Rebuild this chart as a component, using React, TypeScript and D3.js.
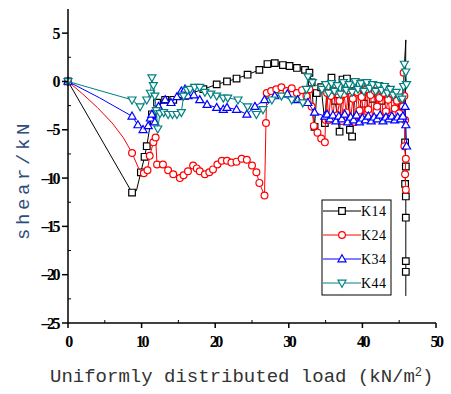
import React from 'react';
import * as d3 from 'd3';

// [load, shear, marker?] -- marker 0 means the point is only on the line
type Pt = [number, number, number?];

const seriesNames = ['K14', 'K24', 'K34', 'K44'];
const seriesColors = ['#000000', '#ff0000', '#0000ff', '#008080'];
const seriesShapes = ['square', 'circle', 'up', 'down'];

const xTicks = [0, 10, 20, 30, 40, 50];
const yTicks = [-25, -20, -15, -10, -5, 0, 5];

const k14: Pt[] = [
  [0, 0], [8.7, -11.5], [9.3, -11.3, 0], [9.9, -9.4], [10.4, -7.8], [10.7, -6.7], [11.4, -3.4], [12.1, -2.2],
  [13.2, -1.9], [14.3, -1.9], [15.9, -1.5], [16.8, -1.2], [18.4, -0.8], [20.2, -0.3], [21.6, 0], [22.9, 0.3],
  [24.4, 0.7], [26.0, 1.2], [27.1, 1.8], [28.1, 1.9], [29.2, 1.7], [30.1, 1.6], [31.1, 1.4], [32.2, 1.2],
  [32.8, 0.9], [33.1, -0.1], [33.5, -4.7], [33.8, -1.2], [34.4, -0.6], [34.9, -4.3], [35.2, -0.5], [35.8, 0.4],
  [36.3, -2.0], [36.9, -5.2], [37.3, 0.2], [37.9, 0.3], [38.3, -5.0], [38.6, -5.7], [39.0, -1.0], [39.6, -0.2],
  [40.2, -2.3], [40.8, -0.4], [41.4, -1.8], [42.0, -0.6], [42.6, -2.0], [43.2, -0.8], [43.8, -1.6], [44.3, -1.2],
  [44.9, -1.9], [45.4, -2.5], [45.9, 4.3, 0], [45.8, -6.3], [45.9, -8.8], [45.8, -10.6], [45.9, -11.9],
  [45.9, -14.1], [45.9, -18.6], [45.9, -19.7], [45.9, -22.2, 0],
];

const k24: Pt[] = [
  [0, 0], [2, -1.3, 0], [4, -2.7, 0], [6, -4.3, 0], [7.5, -5.8, 0], [8.7, -7.4], [9.6, -9.0, 0], [10.3, -9.5],
  [10.8, -9.2], [11.1, -7.7], [11.6, -6.3], [11.9, -5.8], [12.1, -8.6], [12.9, -8.6], [13.6, -9.2], [14.3, -9.6],
  [15.2, -10.0], [15.7, -9.7], [16.3, -9.3], [17.0, -8.7], [17.5, -9.0], [17.9, -9.3], [18.6, -9.6], [19.2, -9.4],
  [19.7, -9.1], [20.3, -8.6], [20.9, -8.2], [21.6, -8.2], [22.2, -8.4], [22.9, -8.3], [23.6, -8.0], [24.3, -8.1],
  [25.0, -8.7], [25.6, -9.4], [26.0, -10.5], [26.7, -11.8], [26.9, -4.3], [27.0, -1.2], [27.6, -1.0], [28.3, -0.8],
  [29.0, -0.6], [29.7, -1.0], [30.4, -0.7], [31.1, -1.2], [31.8, -0.9], [32.4, -1.5], [32.8, -0.8], [33.1, -2.6],
  [33.4, -4.6], [33.9, -5.3], [34.4, -5.9], [34.9, -6.3], [35.0, -4.0], [35.2, -1.2], [35.4, -4.0], [35.7, -1.5],
  [36.0, -3.8], [36.3, -1.0], [36.6, -3.5], [36.9, -2.0], [37.2, -4.1], [37.5, -1.3], [37.8, -3.2], [38.1, -0.9],
  [38.4, -3.9], [38.7, -1.8], [39.0, -4.2], [39.3, -1.1], [39.6, -3.0], [39.9, -1.6], [40.2, -3.7], [40.5, -0.8],
  [40.8, -2.9], [41.1, -1.4], [41.4, -3.9], [41.7, -1.0], [42.0, -2.6], [42.3, -1.7], [42.6, -3.8], [42.9, -1.2],
  [43.2, -3.1], [43.5, -1.9], [43.8, -3.6], [44.1, -1.3], [44.4, -2.8], [44.7, -2.0], [45.0, -3.3], [45.3, -1.8],
  [45.5, -2.6], [45.6, 0.9], [45.7, -1.5], [45.8, -4.0], [45.7, -6.7], [45.9, -8.0], [45.8, -9.6], [45.9, -11.2],
];

const k34: Pt[] = [
  [0, 0], [4.3, -1.7, 0], [8.7, -3.6], [9.5, -4.5], [10.2, -5.0], [10.9, -4.6], [11.2, -3.8], [11.4, -3.4],
  [11.8, -4.2], [12.3, -2.6], [13.2, -1.9], [14.0, -2.2], [14.8, -1.6], [15.4, -1.0], [15.9, -0.8], [16.3, -1.5],
  [17.1, -1.4], [17.9, -1.9], [18.9, -2.4], [20.2, -2.7], [21.1, -2.9], [21.6, -2.7], [22.9, -2.9], [24.3, -3.4],
  [25.4, -2.6], [26.7, -1.9], [28.1, -1.5], [29.8, -1.3], [31.2, -1.9], [32.6, -2.2], [33.5, -3.2], [34.9, -3.6],
  [35.2, -3.4], [35.6, -3.9], [36.0, -3.5], [36.4, -4.1], [36.8, -3.6], [37.2, -3.9], [37.6, -3.4], [38.0, -4.2],
  [38.4, -3.7], [38.8, -4.0], [39.2, -3.5], [39.6, -4.2], [40.0, -3.8], [40.4, -4.0], [40.8, -3.6], [41.2, -4.1],
  [41.6, -3.7], [42.0, -3.9], [42.4, -3.5], [42.8, -4.1], [43.2, -3.7], [43.6, -3.9], [44.0, -3.6], [44.4, -4.0],
  [44.8, -3.7], [45.2, -3.9], [45.5, -3.6], [45.8, -2.6], [45.9, -4.5], [46.0, -6.7],
];

const k44: Pt[] = [
  [0, 0], [8.7, -1.9], [9.8, -2.6], [10.7, -1.9], [11.2, -1.2], [11.4, 0.4], [11.6, -0.4], [11.8, -1.5],
  [12.0, -3.0], [12.2, -4.9], [12.5, -3.3], [13.0, -3.2], [13.6, -3.4], [14.2, -3.4], [14.8, -3.4], [15.4, -3.2],
  [15.7, -1.5], [16.2, -0.9], [16.6, -0.8], [17.2, -0.6], [17.9, -0.6], [18.6, -1.1], [19.4, -1.3], [20.2, -1.5],
  [21.1, -1.7], [21.7, -1.7], [23.1, -1.9], [24.4, -2.6], [25.6, -3.4], [26.5, -2.9], [27.7, -1.9], [29.0, -1.5],
  [30.4, -1.9], [31.9, -2.2], [32.4, -0.8], [32.6, 0.5], [33.2, -0.1], [34.5, -0.8], [35.0, -0.3], [35.4, -1.2],
  [35.8, -0.2], [36.2, -1.0], [36.6, -0.4], [37.0, -1.3], [37.4, -0.1], [37.8, -0.9], [38.2, -0.3], [38.6, -1.1],
  [39.0, 0.0], [39.4, -0.8], [39.8, -0.2], [40.2, -1.0], [40.6, -0.1], [41.0, -0.7], [41.4, -0.3], [41.8, -1.0],
  [42.2, -0.4], [42.6, -0.9], [43.0, -0.5], [43.4, -1.2], [43.8, -0.8], [44.2, -1.4], [44.6, -1.1], [45.0, -1.6],
  [45.4, -1.8], [45.6, -0.5], [45.7, 1.8], [45.9, 1.0], [46.0, -0.3],
];

const allSeries = [k14, k24, k34, k44];

const W = 451;
const H = 394;
const left = 68, right = 436, top = 9, bottom = 323;

const x = d3.scaleLinear().domain([0, 50]).range([left, right]);
const y = d3.scaleLinear().domain([-25, 7.5]).range([bottom, top]);

const markerPath = (shape: string, cx: number, cy: number) => {
  if (shape === 'square') return `M${cx - 3.3},${cy - 3.3}h6.6v6.6h-6.6Z`;
  if (shape === 'up') return `M${cx},${cy - 4.2}L${cx + 4},${cy + 2.8}L${cx - 4},${cy + 2.8}Z`;
  return `M${cx},${cy + 4.2}L${cx + 4},${cy - 2.8}L${cx - 4},${cy - 2.8}Z`;
};

const Marker = ({ shape, cx, cy, color }: { shape: string; cx: number; cy: number; color: string }) =>
  shape === 'circle' ? (
    <circle cx={cx} cy={cy} r={3.4} fill="#fff" stroke={color} strokeWidth={1.2} />
  ) : (
    <path d={markerPath(shape, cx, cy)} fill="#fff" stroke={color} strokeWidth={1.2} />
  );

const tickStyle: React.CSSProperties = {
  fontFamily: '"Liberation Serif", "Times New Roman", serif',
  fontWeight: 'bold',
  fontSize: '16px',
  letterSpacing: '-2.5px',
};

export default function App() {
  const line = d3.line<Pt>().x(d => x(d[0])).y(d => y(d[1]));
  const minorX = d3.range(5, 50, 10);
  const minorY = d3.range(-22.5, 7.5, 5);

  return (
    <svg width={W} height={H} style={{ position: 'absolute', left: 0, top: 0, background: '#fff' }}>
      {/* series */}
      {allSeries.map((s, i) => (
        <g key={seriesNames[i]}>
          <path d={line(s) as string} fill="none" stroke={seriesColors[i]} strokeWidth={1} />
          {s.filter(p => p[2] !== 0).map((p, j) => (
            <Marker key={j} shape={seriesShapes[i]} cx={x(p[0])} cy={y(p[1])} color={seriesColors[i]} />
          ))}
        </g>
      ))}

      {/* axes */}
      <line x1={left} x2={left} y1={top} y2={bottom} stroke="#000" strokeWidth={1.5} />
      <line x1={left} x2={right} y1={bottom} y2={bottom} stroke="#000" strokeWidth={1.5} />
      {yTicks.map(t => (
        <g key={t}>
          <line x1={left - 6} x2={left} y1={y(t)} y2={y(t)} stroke="#000" strokeWidth={1.5} />
          <text x={58} y={y(t) + 5.5} textAnchor="end" style={tickStyle}>{t < 0 ? `–${-t}` : t}</text>
        </g>
      ))}
      {minorY.map(t => (
        <line key={t} x1={left} x2={left + 3} y1={y(t)} y2={y(t)} stroke="#000" strokeWidth={1} />
      ))}
      {xTicks.map(t => (
        <g key={t}>
          <line x1={x(t)} x2={x(t)} y1={bottom} y2={bottom + 5} stroke="#000" strokeWidth={1.5} />
          <text x={x(t)} y={347} textAnchor="middle" style={tickStyle}>{t}</text>
        </g>
      ))}
      {minorX.map(t => (
        <line key={t} x1={x(t)} x2={x(t)} y1={bottom} y2={bottom - 3} stroke="#000" strokeWidth={1} />
      ))}

      {/* titles */}
      <text x={50} y={382} fontFamily='"Liberation Mono", monospace' fontSize={19} fill="#333">
        Uniformly distributed load (kN/m<tspan dy={-6} fontSize={12}>2</tspan><tspan dy={6}>)</tspan>
      </text>
      <text
        transform="translate(29,180) rotate(-90)"
        textAnchor="middle"
        fontFamily='"Liberation Mono", monospace'
        fontSize={19}
        letterSpacing={3.6}
        fill="#2e4d7b"
      >
        shear/kN
      </text>

      {/* legend */}
      <rect x={322} y={200} width={69} height={95} fill="#fff" stroke="#000" strokeWidth={1} />
      {seriesNames.map((n, i) => {
        const ly = 211 + i * 24;
        return (
          <g key={n}>
            <line x1={323} x2={361} y1={ly} y2={ly} stroke={seriesColors[i]} strokeWidth={1} />
            <Marker shape={seriesShapes[i]} cx={342} cy={ly} color={seriesColors[i]} />
            <text x={361} y={ly + 5} fontFamily='"Liberation Serif", serif' fontSize={14} letterSpacing={0.5}>{n}</text>
          </g>
        );
      })}
    </svg>
  );
}
